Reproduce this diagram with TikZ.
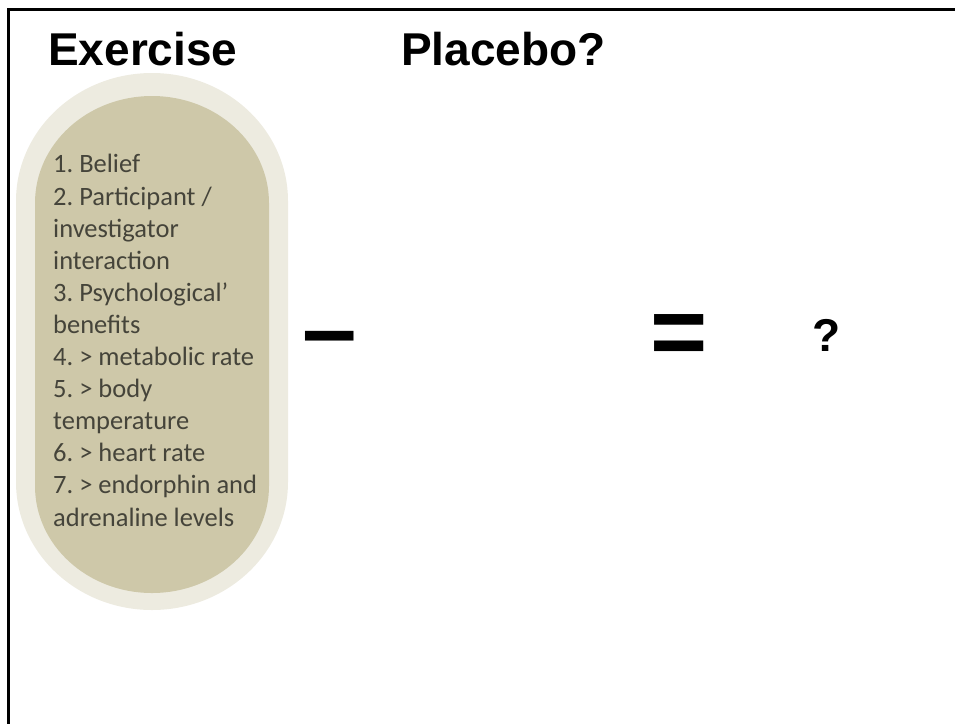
\documentclass[tikz,border=0pt]{standalone}
\usepackage{fontspec}
\newfontfamily\arialfont{Liberation Sans}
\newfontfamily\calibrifont{Carlito}
\definecolor{capsulelight}{HTML}{EDEBE0}
\definecolor{capsuledark}{HTML}{CEC8A9}
\definecolor{itemgray}{HTML}{45443A}
\tikzset{
  title/.style={anchor=base west, inner sep=0pt, font=\arialfont\bfseries\fontsize{46}{50}\selectfont},
  items/.style={anchor=base west, inner sep=0pt, align=left, text=itemgray,
    font=\calibrifont\fontsize{26.5}{32.1}\selectfont},
  sign/.style={anchor=base, inner sep=0pt, font=\arialfont\bfseries\fontsize{98}{100}\selectfont}
}
\frenchspacing
\begin{document}
\begin{tikzpicture}[x=1pt, y=-1pt]
  \def\Xc{152};
  \def\Ao{136}; % outer capsule
  \def\Bo{128};
  \def\Ai{117}; % inner capsule
  \def\Bi{107};
  \useasboundingbox (0,0) rectangle (955,724);
        % slide edge
        \draw[line width=2.5pt] (955,9.5) -- (8.7,9.5) -- (8.7,724);

        % outer capsule
        \fill[capsulelight] (\Xc - \Ao, 73 + \Bo)
          arc[start angle=180, end angle=360, x radius=\Ao, y radius=\Bo]
          -- (\Xc + \Ao, 610 - \Bo)
          arc[start angle=0, end angle=180, x radius=\Ao, y radius=\Bo] -- cycle;
        % inner capsule
        \fill[capsuledark] (\Xc - \Ai, 96 + \Bi)
          arc[start angle=180, end angle=360, x radius=\Ai, y radius=\Bi]
          -- (\Xc + \Ai, 593 - \Bi)
          arc[start angle=0, end angle=180, x radius=\Ai, y radius=\Bi] -- cycle;

        % headings
        \node[title] (exercise) at (48,65) {Exercise};
        \node[title] (placebo) at (401,65) {Placebo?};

        % effects of exercise (base is the last line)
        \node[items] (effects) at (53,526) {1. Belief\\2. Participant /\\investigator\\interaction\\3. Psychological’\\benefits\\4. > metabolic rate\\5. > body\\temperature\\6. > heart rate\\7. > endorphin and\\adrenaline levels};

        % the sum
        \node[sign] (minus) at (329.5,362) {–};
        \node[sign] (equals) at (679.5,365) {=};
        \node[title, anchor=base] (result) at (827,351) {?};
\end{tikzpicture}
\end{document}
